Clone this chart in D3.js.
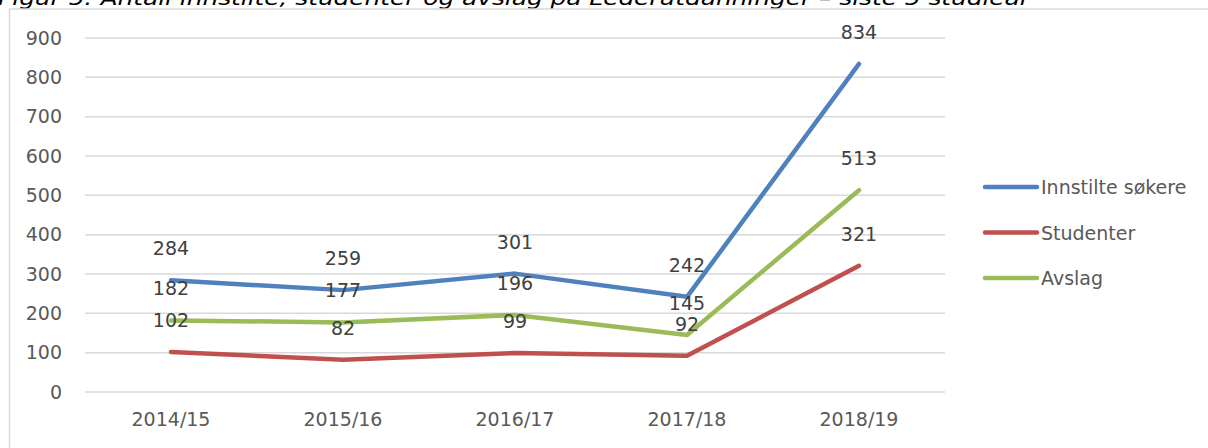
<!DOCTYPE html>
<html>
<head>
<meta charset="utf-8">
<script src="https://cdn.jsdelivr.net/npm/d3@7"></script>
<style>
  html, body { margin: 0; padding: 0; background: #fff; overflow: hidden; }
  svg { display: block; font-family: "DejaVu Sans", Verdana, sans-serif; }
</style>
</head>
<body>
<svg id="chart" width="1208" height="448"></svg>
<script>
"use strict";

// data
var years = ["2014/15", "2015/16", "2016/17", "2017/18", "2018/19"];
var innstilte = [284, 259, 301, 242, 834];
var studenter = [102, 82, 99, 92, 321];
var avslag = [182, 177, 196, 145, 513];
var yTicks = [0, 100, 200, 300, 400, 500, 600, 700, 800, 900];

var seriesNames = ["Innstilte søkere", "Studenter", "Avslag"];
var seriesColors = ["#4F81BD", "#C0504D", "#9BBB59"];
var series = [innstilte, studenter, avslag];

var svg = d3.select("#chart");

// title, cut off at the top like in the original
svg.append("text")
  .attr("x", -2)
  .attr("y", 5)
  .attr("font-size", 19)
  .attr("font-style", "italic")
  .attr("fill", "#000")
  .attr("textLength", 1032)
  .attr("lengthAdjust", "spacingAndGlyphs")
  .text("Figur 5: Antall innstilte, studenter og avslag på Lederutdanninger – siste 5 studieår");

// chart frame
svg.append("rect")
  .attr("x", 9.5).attr("y", 9)
  .attr("width", 1220).attr("height", 460)
  .attr("fill", "none")
  .attr("stroke", "#D9D9D9")
  .attr("stroke-width", 1.5);

var x = d3.scaleBand().domain(years).range([85, 945]);
var y = d3.scaleLinear().domain([0, 900]).range([392, 38]);

// gridlines
svg.append("g")
  .selectAll("line")
  .data(yTicks)
  .enter()
  .append("line")
    .attr("x1", 85).attr("x2", 945)
    .attr("y1", function(d) { return y(d); })
    .attr("y2", function(d) { return y(d); })
    .attr("stroke", "#D9D9D9")
    .attr("stroke-width", 1.5);

// y axis labels
var yAxis = d3.axisLeft(y).tickValues(yTicks).tickSize(0).tickPadding(0);
var gy = svg.append("g").attr("transform", "translate(62,0)").call(yAxis);
gy.select(".domain").remove();
gy.selectAll("text")
  .attr("font-size", 19)
  .attr("font-family", "DejaVu Sans, Verdana, sans-serif")
  .attr("fill", "#595959");

// x axis labels
var xAxis = d3.axisBottom(x).tickSize(0).tickPadding(0);
var gx = svg.append("g").attr("transform", "translate(0,412)").call(xAxis);
gx.select(".domain").remove();
gx.selectAll("text")
  .attr("font-size", 19)
  .attr("font-family", "DejaVu Sans, Verdana, sans-serif")
  .attr("fill", "#595959");

var line = d3.line()
  .x(function(d, i) { return x(years[i]) + x.bandwidth() / 2; })
  .y(function(d) { return y(d); });

// lines
svg.append("g")
  .selectAll("path")
  .data(series)
  .enter()
  .append("path")
    .attr("d", line)
    .attr("fill", "none")
    .attr("stroke", function(d, i) { return seriesColors[i]; })
    .attr("stroke-width", 4.5)
    .attr("stroke-linecap", "round")
    .attr("stroke-linejoin", "round");

// data labels above points
series.forEach(function(s) {
  svg.append("g")
    .selectAll("text")
    .data(s)
    .enter()
    .append("text")
      .attr("x", function(d, i) { return x(years[i]) + x.bandwidth() / 2; })
      .attr("y", function(d) { return y(d) - 25; })
      .attr("text-anchor", "middle")
      .attr("font-size", 19)
      .attr("fill", "#404040")
      .text(function(d) { return d; });
});

// legend
var legend = svg.append("g")
  .selectAll("g")
  .data(seriesNames)
  .enter()
  .append("g")
    .attr("transform", function(d, i) { return "translate(983," + (187 + i * 45.5) + ")"; });

legend.append("line")
  .attr("x1", 2).attr("x2", 54)
  .attr("y1", 0).attr("y2", 0)
  .attr("stroke", function(d, i) { return seriesColors[i]; })
  .attr("stroke-width", 4.5)
  .attr("stroke-linecap", "round");

legend.append("text")
  .attr("x", 58)
  .attr("y", 7)
  .attr("font-size", 19)
  .attr("fill", "#595959")
  .text(function(d) { return d; });
</script>
</body>
</html>
